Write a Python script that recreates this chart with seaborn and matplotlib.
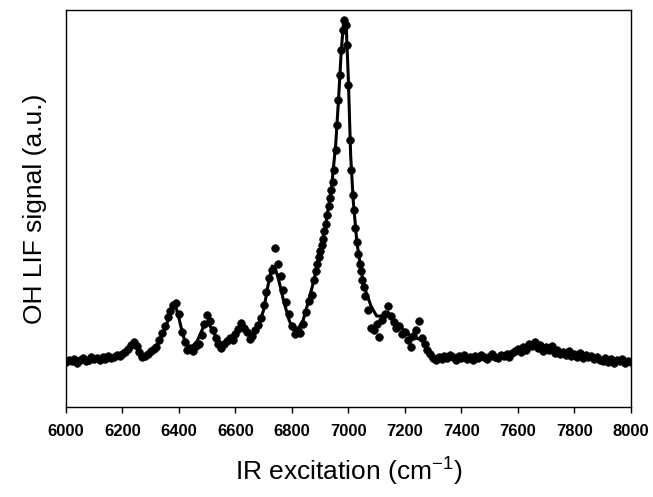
import numpy as np
import pandas as pd
import matplotlib
matplotlib.use("Agg")
import matplotlib.pyplot as plt
import seaborn as sns

# ---- data (arbitrary units) ----
pts_x = np.concatenate([np.arange(6000, 6880, 10),
                        np.arange(6880, 7060, 5),
                        np.arange(7060, 8001, 10)])

pts_y = [
    # 6000-6090
    -0.2, 0.0, -0.1, 0.1, -0.3, 0.0, 0.2, -0.1, 0.0, 0.3,
    # 6100-6190
    0.1, 0.2, 0.0, 0.3, 0.1, 0.4, 0.2, 0.3, 0.5, 0.4,
    # 6200-6290
    0.6, 0.8, 1.1, 1.5, 1.8, 1.4, 0.8, 0.3, 0.4, 0.6,
    # 6300-6390
    0.9, 1.1, 1.3, 2.0, 2.7, 3.4, 4.3, 4.9, 5.5, 5.7,
    # 6400-6490
    4.6, 2.8, 1.8, 1.0, 1.2, 0.9, 1.4, 1.6, 2.5, 3.6,
    # 6500-6590
    4.5, 3.9, 3.0, 2.2, 1.6, 1.2, 1.6, 1.9, 2.2, 2.0,
    # 6600-6690
    2.6, 3.1, 3.7, 3.2, 2.8, 2.1, 2.4, 3.0, 3.5, 4.2,
    # 6700-6790
    5.5, 6.8, 8.2, 9.0, 11.2, 9.6, 8.4, 7.0, 5.8, 4.6,
    # 6800-6870
    3.4, 2.6, 3.0, 2.7, 3.6, 4.8, 5.9, 6.5,
    # 6880-6925 (step 5)
    8.0, 8.9, 9.6, 10.3, 10.9, 11.5, 12.1, 12.9, 13.6, 14.5,
    # 6930-6975
    15.4, 16.2, 17.0, 17.8, 19.0, 21.0, 23.5, 26.0, 28.5, 31.0,
    # 6980-7025
    33.0, 34.0, 33.5, 31.5, 27.5, 22.0, 19.0, 16.5, 15.0, 13.2,
    # 7030-7055
    11.8, 10.6, 9.6, 8.9, 8.0, 7.3,
    # 7060-7150
    6.4, 5.0, 3.2, 3.0, 3.6, 2.3, 4.0, 4.6, 5.4, 4.4,
    # 7160-7250
    3.8, 3.2, 3.4, 2.6, 2.8, 2.0, 1.3, 2.4, 3.0, 3.9,
    # 7260-7350
    2.2, 1.6, 1.0, 0.6, 0.2, 0.0, 0.3, 0.1, 0.4, 0.2,
    # 7360-7450
    0.5, 0.3, 0.0, 0.4, 0.2, 0.5, 0.1, 0.3, 0.0, 0.4,
    # 7460-7550
    0.2, 0.5, 0.3, 0.1, 0.4, 0.6, 0.3, 0.2, 0.5, 0.4,
    # 7560-7650
    0.6, 0.3, 0.7, 0.9, 1.1, 0.8, 1.3, 1.0, 1.6, 1.4,
    # 7660-7750
    1.8, 1.2, 1.5, 0.9, 1.3, 1.0, 1.4, 0.7, 1.0, 0.6,
    # 7760-7850
    0.8, 0.5, 0.9, 0.4, 0.6, 0.3, 0.7, 0.2, 0.5, 0.3,
    # 7860-7950
    0.4, 0.1, 0.3, 0.0, -0.1, 0.2, -0.2, 0.1, -0.3, 0.0,
    # 7960-8000
    -0.1, 0.1, -0.3, -0.1, -0.2,
]

fit_x = [6000, 6050, 6100, 6150, 6180, 6200, 6220, 6240, 6255, 6270,
         6290, 6310, 6330, 6350, 6365, 6380, 6390, 6400, 6415, 6430,
         6445, 6465, 6485, 6500, 6515, 6535, 6555, 6575, 6600, 6620,
         6640, 6660, 6680, 6700, 6715, 6730, 6740, 6755, 6770, 6790,
         6805, 6820, 6840, 6860, 6880, 6900, 6920, 6940, 6955, 6965,
         6975, 6983, 6988, 6993, 7000, 7008, 7017, 7030, 7047, 7060,
         7080, 7100, 7120, 7140, 7160, 7180, 7200, 7220, 7240, 7260,
         7280, 7300, 7330, 7400, 7500, 7560, 7600, 7640, 7670, 7700,
         7750, 7800, 7870, 7950, 8000]
fit_y = [0.0, 0.0, 0.1, 0.2, 0.4, 0.6, 1.0, 1.5, 1.0, 0.5,
         0.6, 1.0, 1.8, 3.0, 4.3, 5.3, 5.2, 4.2, 2.4, 1.4,
         1.3, 1.9, 3.2, 3.8, 3.2, 2.1, 1.6, 1.9, 2.5, 3.1,
         2.8, 2.4, 3.3, 5.0, 7.4, 9.4, 9.3, 7.8, 6.0, 4.0,
         3.0, 3.0, 4.0, 6.0, 8.2, 10.8, 13.6, 17.2, 21.5, 26.0,
         31.0, 33.8, 34.0, 33.0, 28.0, 20.5, 16.0, 11.8, 8.6, 7.0,
         5.4, 4.4, 4.4, 4.8, 4.0, 3.4, 2.9, 2.4, 2.2, 2.0,
         1.1, 0.4, 0.2, 0.2, 0.3, 0.5, 0.8, 1.2, 1.4, 1.1,
         0.7, 0.5, 0.2, 0.0, -0.1]

xticks = [6000, 6200, 6400, 6600, 6800, 7000, 7200, 7400, 7600, 7800, 8000]

pts = pd.DataFrame({"x": pts_x, "y": pts_y})
fit = pd.DataFrame({"x": fit_x, "y": fit_y})

sns.set_style("ticks")
plt.rcParams["font.family"] = ["Liberation Sans", "DejaVu Sans"]
plt.rcParams["text.color"] = "black"
plt.rcParams["axes.labelcolor"] = "black"

fig = plt.figure(figsize=(6.53, 4.97), dpi=100)
ax = fig.add_axes([0.101, 0.181, 0.865, 0.799])

sns.scatterplot(data=pts, x="x", y="y", ax=ax, color="black", s=30,
                edgecolor="black", linewidth=0.5, zorder=3)
sns.lineplot(data=fit, x="x", y="y", ax=ax, color="black", linewidth=2.2,
             zorder=2, sort=True)

ax.set_xlim(6000, 8000)
ax.set_ylim(-4.7, 35.0)
ax.set_xticks(xticks)
ax.set_xticklabels([str(t) for t in xticks], fontsize=12, fontweight="bold",
                   color="black")
ax.set_yticks([])
ax.tick_params(axis="x", direction="out", length=4, width=1, pad=8, colors="black")
for sp in ax.spines.values():
    sp.set_visible(True)
    sp.set_color("black")
    sp.set_linewidth(1.0)

ax.set_xlabel(r"IR excitation (cm$^{\mathregular{-1}}$)", fontsize=19,
              labelpad=11, color="black")
ax.set_ylabel("OH LIF signal (a.u.)", fontsize=19, labelpad=14, color="black")

fig.savefig("out.png", dpi=100, facecolor="white")
